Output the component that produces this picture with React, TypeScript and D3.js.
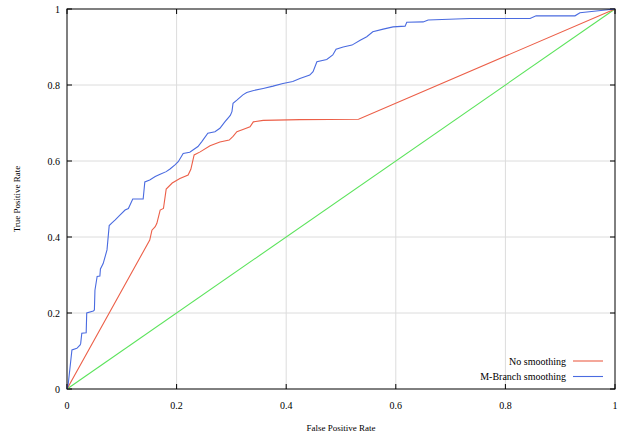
import React, { useRef, useEffect } from "react";
import * as d3 from "d3";

// ROC curve points as [false positive rate, true positive rate]
const noSmoothing: [number, number][] = [
  [0, 0], [0.151, 0.392], [0.155, 0.418], [0.161, 0.427], [0.164, 0.436],
  [0.17, 0.471], [0.176, 0.475], [0.181, 0.526], [0.192, 0.542], [0.206, 0.554],
  [0.221, 0.563], [0.226, 0.578], [0.232, 0.616], [0.243, 0.624], [0.261, 0.64],
  [0.279, 0.65], [0.296, 0.655], [0.303, 0.665], [0.31, 0.677], [0.321, 0.683],
  [0.334, 0.69], [0.34, 0.703], [0.358, 0.707], [0.425, 0.709], [0.532, 0.71],
  [1, 1],
];

const mBranch: [number, number][] = [
  [0, 0], [0.002, 0.01], [0.009, 0.103], [0.018, 0.107], [0.024, 0.116],
  [0.025, 0.12], [0.027, 0.147], [0.035, 0.148], [0.036, 0.2], [0.048, 0.205],
  [0.05, 0.208], [0.051, 0.26], [0.055, 0.296], [0.06, 0.297], [0.061, 0.316],
  [0.066, 0.33], [0.073, 0.366], [0.077, 0.43], [0.082, 0.437], [0.088, 0.445],
  [0.097, 0.458], [0.106, 0.471], [0.112, 0.475], [0.12, 0.5], [0.139, 0.5],
  [0.142, 0.545], [0.151, 0.55], [0.161, 0.559], [0.17, 0.565], [0.181, 0.572],
  [0.188, 0.579], [0.197, 0.59], [0.203, 0.598], [0.212, 0.62], [0.224, 0.623],
  [0.239, 0.638], [0.246, 0.651], [0.257, 0.673], [0.27, 0.677], [0.279, 0.686],
  [0.288, 0.703], [0.298, 0.72], [0.301, 0.73], [0.303, 0.752], [0.31, 0.76],
  [0.321, 0.774], [0.328, 0.78], [0.339, 0.785], [0.358, 0.791], [0.376, 0.797],
  [0.394, 0.804], [0.412, 0.809], [0.425, 0.817], [0.443, 0.826], [0.449, 0.835],
  [0.456, 0.861], [0.474, 0.867], [0.485, 0.879], [0.491, 0.894], [0.504, 0.9],
  [0.52, 0.905], [0.535, 0.918], [0.547, 0.927], [0.558, 0.94], [0.577, 0.947],
  [0.595, 0.953], [0.617, 0.955], [0.62, 0.965], [0.65, 0.966], [0.659, 0.971],
  [0.735, 0.975], [0.845, 0.975], [0.856, 0.982], [0.927, 0.982], [0.936, 0.99],
  [1, 1],
];

const diagonal: [number, number][] = [[0, 0], [1, 1]];

const ticks = [0, 0.2, 0.4, 0.6, 0.8, 1];

const legendItems = [
  { label: "No smoothing", color: "#ec5f48" },
  { label: "M-Branch smoothing", color: "#4a6be0" },
];

const RocChart = () => {
  const svgRef = useRef<SVGSVGElement>(null);

  useEffect(() => {
    const svg = d3.select(svgRef.current);
    const width = 622;
    const height = 432;
    const margin = { top: 9, right: 7, bottom: 43, left: 67 };

    svg.selectAll("*").remove();

    const x = d3.scaleLinear().domain([0, 1]).range([margin.left, width - margin.right]);
    const y = d3.scaleLinear().domain([0, 1]).range([height - margin.bottom, margin.top]);
    const font = "'Liberation Serif', 'Times New Roman', serif";

    // grid
    const grid = svg.append("g").attr("stroke", "#dcdcdc").attr("stroke-width", 1);
    ticks.slice(1, -1).forEach((t) => {
      grid.append("line").attr("x1", x(t)).attr("x2", x(t)).attr("y1", y(0)).attr("y2", y(1));
      grid.append("line").attr("x1", x(0)).attr("x2", x(1)).attr("y1", y(t)).attr("y2", y(t));
    });

    // inner ticks on all four sides
    const tickLen = 5;
    const tk = svg.append("g").attr("stroke", "#000").attr("stroke-width", 1);
    ticks.forEach((t) => {
      tk.append("line").attr("x1", x(t)).attr("x2", x(t)).attr("y1", y(0)).attr("y2", y(0) - tickLen);
      tk.append("line").attr("x1", x(t)).attr("x2", x(t)).attr("y1", y(1)).attr("y2", y(1) + tickLen);
      tk.append("line").attr("x1", x(0)).attr("x2", x(0) + tickLen).attr("y1", y(t)).attr("y2", y(t));
      tk.append("line").attr("x1", x(1)).attr("x2", x(1) - tickLen).attr("y1", y(t)).attr("y2", y(t));
    });

    const fmt = d3.format("~g");
    svg
      .append("g")
      .selectAll("text")
      .data(ticks)
      .join("text")
      .attr("x", (d) => x(d))
      .attr("y", y(0) + 20)
      .attr("text-anchor", "middle")
      .attr("font-family", font)
      .attr("font-size", 10)
      .text((d) => fmt(d));

    svg
      .append("g")
      .selectAll("text")
      .data(ticks)
      .join("text")
      .attr("x", x(0) - 7)
      .attr("y", (d) => y(d) + 3.5)
      .attr("text-anchor", "end")
      .attr("font-family", font)
      .attr("font-size", 10)
      .text((d) => fmt(d));

    // curves
    const line = d3
      .line<[number, number]>()
      .x((d) => x(d[0]))
      .y((d) => y(d[1]));

    svg
      .append("path")
      .datum(diagonal)
      .attr("fill", "none")
      .attr("stroke", "#5be35b")
      .attr("stroke-width", 1.1)
      .attr("d", line);

    svg
      .append("path")
      .datum(noSmoothing)
      .attr("fill", "none")
      .attr("stroke", legendItems[0].color)
      .attr("stroke-width", 1.1)
      .attr("d", line);

    svg
      .append("path")
      .datum(mBranch)
      .attr("fill", "none")
      .attr("stroke", legendItems[1].color)
      .attr("stroke-width", 1.1)
      .attr("d", line);

    // frame
    svg
      .append("rect")
      .attr("x", x(0))
      .attr("y", y(1))
      .attr("width", x(1) - x(0))
      .attr("height", y(0) - y(1))
      .attr("fill", "none")
      .attr("stroke", "#000")
      .attr("stroke-width", 1);

    // legend
    const legend = svg.append("g");
    legendItems.forEach((item, i) => {
      const ly = 361 + i * 15.5;
      legend
        .append("text")
        .attr("x", 566)
        .attr("y", ly + 3.5)
        .attr("text-anchor", "end")
        .attr("font-family", font)
        .attr("font-size", 10)
        .text(item.label);
      legend
        .append("line")
        .attr("x1", 573)
        .attr("x2", 603)
        .attr("y1", ly)
        .attr("y2", ly)
        .attr("stroke", item.color)
        .attr("stroke-width", 1.1);
    });

    // axis titles
    svg
      .append("text")
      .attr("x", (x(0) + x(1)) / 2)
      .attr("y", 431)
      .attr("text-anchor", "middle")
      .attr("font-family", font)
      .attr("font-size", 9)
      .text("False Positive Rate");

    svg
      .append("text")
      .attr("transform", `translate(20, ${(y(0) + y(1)) / 2}) rotate(-90)`)
      .attr("text-anchor", "middle")
      .attr("font-family", font)
      .attr("font-size", 9)
      .text("True Positive Rate");
  }, []);

  return <svg ref={svgRef} width={622} height={432} style={{ display: "block" }}></svg>;
};

export default function App() {
  return (
    <div style={{ position: "absolute", left: 0, top: 0, background: "#fff" }}>
      <RocChart />
    </div>
  );
}
